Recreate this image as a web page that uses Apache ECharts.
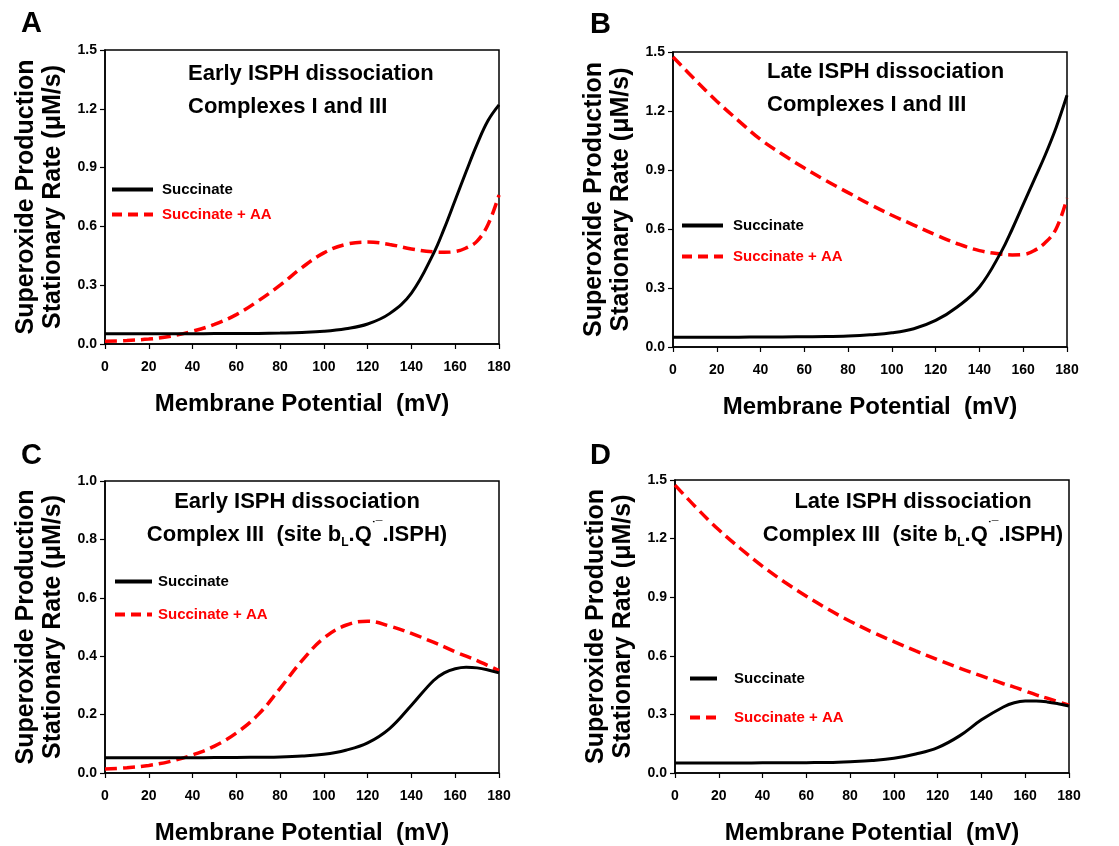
<!DOCTYPE html>
<html>
<head>
<meta charset="utf-8">
<script src="https://cdn.jsdelivr.net/npm/echarts@6/dist/echarts.min.js"></script>
<style>html,body{margin:0;padding:0;background:#fff}#c{width:1119px;height:846px}</style>
</head>
<body>
<div id="c"></div>
<script>
// Membrane potential (mV) sample points
var xs = [0,10,20,30,40,50,60,70,80,90,100,110,120,130,140,150,155,160,165,170,175,180];
// Panel A
var succA   = [0.052,0.052,0.052,0.052,0.052,0.053,0.053,0.054,0.056,0.059,0.065,0.078,0.102,0.155,0.260,0.460,0.590,0.735,0.880,1.020,1.140,1.220];
var succAAA = [0.014,0.018,0.025,0.040,0.065,0.100,0.150,0.220,0.300,0.390,0.465,0.508,0.520,0.508,0.485,0.470,0.468,0.472,0.490,0.525,0.610,0.760];
// Panel B
var succB   = [0.050,0.050,0.050,0.050,0.051,0.051,0.052,0.053,0.056,0.062,0.072,0.093,0.135,0.205,0.305,0.485,0.600,0.725,0.850,0.975,1.115,1.280];
var succAAB = [1.475,1.360,1.250,1.150,1.055,0.980,0.910,0.845,0.785,0.725,0.670,0.620,0.570,0.525,0.490,0.472,0.468,0.470,0.490,0.530,0.600,0.756];
// Panel C
var succC   = [0.052,0.052,0.052,0.052,0.052,0.053,0.053,0.054,0.055,0.058,0.064,0.078,0.103,0.152,0.232,0.316,0.343,0.357,0.362,0.360,0.353,0.343];
var succAAC = [0.014,0.018,0.026,0.040,0.062,0.092,0.137,0.200,0.290,0.385,0.462,0.506,0.520,0.503,0.478,0.448,0.432,0.415,0.400,0.385,0.368,0.351];
// Panel D
var succD   = [0.051,0.051,0.051,0.051,0.052,0.052,0.053,0.054,0.058,0.064,0.075,0.097,0.130,0.190,0.272,0.338,0.360,0.368,0.368,0.364,0.355,0.343];
var succAAD = [1.474,1.355,1.245,1.148,1.058,0.978,0.905,0.838,0.777,0.722,0.673,0.625,0.580,0.537,0.497,0.457,0.440,0.420,0.400,0.383,0.365,0.347];

var xTicks = {min:0, max:180, interval:20};
var yTicksABD = {min:0, max:1.5, interval:0.3};
var yTicksC = {min:0, max:1.0, interval:0.2};

var FONT = '"Liberation Sans", Arial, sans-serif';
var S1 = 'Succinate', S2 = 'Succinate + AA';

function pairs(y){ return xs.map(function(x,i){ return [x, y[i]]; }); }

var grids = [
  {left:105, top:50,  width:394, height:294},
  {left:673, top:52,  width:394, height:295},
  {left:105, top:481, width:394, height:294},
  {left:675, top:480, width:394, height:294}
];
var yScales = [yTicksABD, yTicksABD, yTicksC, yTicksABD];
var panelData = [[succA, succAAA],[succB, succAAB],[succC, succAAC],[succD, succAAD]];

var xAxes = [], yAxes = [], series = [];
grids.forEach(function(g, i){
  g.show = true; g.borderColor = '#000'; g.borderWidth = 1.5; g.containLabel = false;
  xAxes.push({
    type:'value', gridIndex:i, min:xTicks.min, max:xTicks.max, interval:xTicks.interval,
    name:'Membrane Potential  (mV)', nameLocation:'middle', nameGap:48,
    nameTextStyle:{fontFamily:FONT, fontWeight:'bold', fontSize:24, color:'#000'},
    axisLine:{show:true, onZero:false, lineStyle:{color:'#000', width:1.5}},
    axisTick:{show:true, length:5, lineStyle:{color:'#000', width:1.2}},
    axisLabel:{margin:16, fontFamily:FONT, fontWeight:'bold', fontSize:14, color:'#000'},
    splitLine:{show:false}
  });
  var ys = yScales[i];
  yAxes.push({
    type:'value', gridIndex:i, min:ys.min, max:ys.max, interval:ys.interval,
    name:'Superoxide Production\nStationary Rate (\u03bcM/s)', nameLocation:'middle', nameGap:38, nameRotate:90,
    nameTextStyle:{fontFamily:FONT, fontWeight:'bold', fontSize:25, color:'#000', lineHeight:27},
    axisLine:{show:true, onZero:false, lineStyle:{color:'#000', width:1.5}},
    axisTick:{show:true, length:5, lineStyle:{color:'#000', width:1.2}},
    axisLabel:{margin:8, fontFamily:FONT, fontWeight:'bold', fontSize:14, color:'#000',
      formatter:function(v){ return v.toFixed(1); }},
    splitLine:{show:false}
  });
  series.push({
    name:S1, type:'line', xAxisIndex:i, yAxisIndex:i, data:pairs(panelData[i][0]),
    smooth:0.4, symbol:'none', z:3,
    lineStyle:{color:'#000', width:3}, itemStyle:{color:'#000'}
  });
  series.push({
    name:S2, type:'line', xAxisIndex:i, yAxisIndex:i, data:pairs(panelData[i][1]),
    smooth:0.4, symbol:'none', z:2,
    lineStyle:{color:'#ff0000', width:3.5, type:[12,6]}, itemStyle:{color:'#ff0000'}
  });
});

function mkLegend(left, top, w, gap, pad){
  return {
    orient:'vertical', left:left, top:top, padding:0, itemWidth:w, itemHeight:14, itemGap:gap,
    selectedMode:false,
    itemStyle:{opacity:0},
    textStyle:{fontFamily:FONT, fontWeight:'bold', fontSize:15, padding:[0,0,0,pad]},
    data:[
      {name:S1, textStyle:{color:'#000'}, lineStyle:{width:4, color:'#000', type:'solid'}},
      {name:S2, textStyle:{color:'#ff0000'}, lineStyle:{width:4, color:'#ff0000', type:[10,6]}}
    ]
  };
}

var titleStyle = {fontFamily:FONT, fontWeight:'bold', fontSize:22, color:'#000', lineHeight:33,
  rich:{
    sub:{fontFamily:FONT, fontWeight:'bold', fontSize:12, color:'#000', lineHeight:33, verticalAlign:'bottom', padding:[0,0,2,0]},
    sup:{fontFamily:FONT, fontWeight:'bold', fontSize:12, color:'#000', lineHeight:33, verticalAlign:'top', padding:[3,0,0,0]}
  }
};
var letterStyle = {fontFamily:FONT, fontWeight:'bold', fontSize:29, color:'#000'};

var option = {
  backgroundColor:'#fff',
  animation:false,
  title:[
    {text:'A', left:21, top:9, padding:0, textStyle:letterStyle},
    {text:'B', left:590, top:10, padding:0, textStyle:letterStyle},
    {text:'C', left:21, top:441, padding:0, textStyle:letterStyle},
    {text:'D', left:590, top:441, padding:0, textStyle:letterStyle},
    {text:'Early ISPH dissociation\nComplexes I and III', left:188, top:57, padding:0, textStyle:titleStyle},
    {text:'Late ISPH dissociation\nComplexes I and III', left:767, top:55, padding:0, textStyle:titleStyle},
    {text:'Early ISPH dissociation\nComplex III  (site b{sub|L}.Q{sup|\u02d9\u00af}.ISPH)', left:297, textAlign:'center', top:485, padding:0, textStyle:titleStyle},
    {text:'Late ISPH dissociation\nComplex III  (site b{sub|L}.Q{sup|\u02d9\u00af}.ISPH)', left:913, textAlign:'center', top:485, padding:0, textStyle:titleStyle}
  ],
  legend:[
    mkLegend(110, 182, 41, 10, 4),
    mkLegend(680, 218, 41, 16, 5),
    mkLegend(113, 574, 37, 18, 1),
    mkLegend(688, 671, 27, 24, 12)
  ],
  grid:grids,
  xAxis:xAxes,
  yAxis:yAxes,
  series:series
};

var chart = echarts.init(document.getElementById('c'), null, {renderer:'canvas'});
chart.setOption(option);
</script>
</body>
</html>
